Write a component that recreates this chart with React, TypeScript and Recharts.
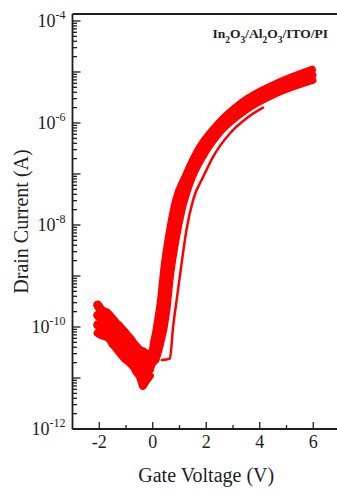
import { ComposedChart, Line, XAxis, YAxis, ReferenceLine, Label, Customized } from "recharts";

const RED = "#ff0000";
const INK = "#1e1e1e";
const FONT = '"Liberation Serif", "Times New Roman", serif';

const vRange: [number, number] = [-3, 7];
const iRange: [number, number] = [1e-12, 1.37e-4];
const xTicks = [-2, -1, 0, 1, 2, 3, 4, 5, 6];
const yDecades = [-12, -11, -10, -9, -8, -7, -6, -5, -4];
const mantissas = [1, 2, 3, 4, 5, 6, 7, 8, 9];

// off-state region, Vg < 0 (four overlapping sweeps)
const offV = [-2.06, -1.95, -1.84, -1.72, -1.61, -1.5, -1.39, -1.27, -1.16, -1.05, -0.94, -0.82, -0.71, -0.6, -0.49, -0.37, -0.26, -0.11];
const off1I = [2.7e-10, 2.2e-10, 2.0e-10, 1.9e-10, 1.65e-10, 1.4e-10, 1.2e-10, 1.05e-10, 9.0e-11, 7.8e-11, 6.6e-11, 5.6e-11, 4.6e-11, 4.0e-11, 3.4e-11, 3.3e-11, 2.8e-11, 3.0e-11];
const off2I = [1.7e-10, 1.5e-10, 1.35e-10, 1.3e-10, 1.2e-10, 9.5e-11, 7.8e-11, 7.2e-11, 6.2e-11, 5.0e-11, 4.3e-11, 3.9e-11, 3.4e-11, 2.8e-11, 2.3e-11, 2.0e-11, 1.9e-11, 2.1e-11];
const off3I = [1.1e-10, 1.05e-10, 9.8e-11, 8.5e-11, 7.7e-11, 6.8e-11, 5.9e-11, 4.6e-11, 3.9e-11, 3.6e-11, 3.2e-11, 2.6e-11, 2.2e-11, 2.0e-11, 1.65e-11, 1.2e-11, 1.3e-11, 1.5e-11];
const off4I = [7.6e-11, 7.0e-11, 6.7e-11, 6.4e-11, 5.8e-11, 4.6e-11, 4.0e-11, 3.3e-11, 2.8e-11, 2.4e-11, 2.15e-11, 1.9e-11, 1.65e-11, 1.3e-11, 1.1e-11, 7.0e-12, 8.7e-12, 1.1e-11];

// turn-on sweeps (bundle of repeated cycles)
const on1V = [-0.04, 0.0, 0.11, 0.3, 0.43, 0.62, 0.86, 1.24, 1.72, 2.47, 3.32, 4.67, 5.96];
const on1I = [1.8e-11, 3.5e-11, 7.6e-11, 3.4e-10, 1.5e-9, 7.0e-9, 3.0e-8, 9.5e-8, 3.1e-7, 1.0e-6, 2.5e-6, 6.1e-6, 1.12e-5];
const on2V = [0.04, 0.19, 0.41, 0.54, 0.73, 0.97, 1.31, 1.82, 2.51, 3.37, 4.65, 5.98];
const on2I = [2.1e-11, 5.6e-11, 2.7e-10, 1.3e-9, 5.6e-9, 2.5e-8, 8.4e-8, 2.7e-7, 8.4e-7, 2.1e-6, 4.7e-6, 8.7e-6];
const on3V = [0.11, 0.22, 0.52, 0.65, 0.84, 1.09, 1.41, 1.91, 2.55, 3.45, 4.61, 5.98];
const on3I = [2.25e-11, 3.5e-11, 2.15e-10, 9.7e-10, 4.4e-9, 2.0e-8, 7.1e-8, 2.4e-7, 7.0e-7, 1.76e-6, 3.8e-6, 6.9e-6];

// shifted single sweep on the right
const lateV = [0.34, 0.64, 0.76, 0.91, 1.08, 1.26, 1.51, 1.89, 2.26, 2.89, 3.56, 4.12];
const lateI = [2.25e-11, 2.4e-11, 1.0e-10, 3.9e-10, 1.8e-9, 8.0e-9, 3.1e-8, 8.9e-8, 2.2e-7, 6.3e-7, 1.3e-6, 2.0e-6];

const toPoints = (v: number[], i: number[]) => v.map((x, k) => ({ v: x, i: i[k] }));

const series = [
  { key: "off1", data: toPoints(offV, off1I), w: 9, curve: "linear" },
  { key: "off2", data: toPoints(offV, off2I), w: 9, curve: "linear" },
  { key: "off3", data: toPoints(offV, off3I), w: 9, curve: "linear" },
  { key: "off4", data: toPoints(offV, off4I), w: 8, curve: "linear" },
  { key: "on1", data: toPoints(on1V, on1I), w: 7.5, curve: "monotoneX" },
  { key: "on2", data: toPoints(on2V, on2I), w: 7.5, curve: "monotoneX" },
  { key: "on3", data: toPoints(on3V, on3I), w: 7.5, curve: "monotoneX" },
  { key: "late", data: toPoints(lateV, lateI), w: 2.5, curve: "monotoneX" },
];

const yTickValues = yDecades
  .flatMap((e) => mantissas.map((m) => m * Math.pow(10, e)))
  .filter((v) => v <= iRange[1]);

const YTick = (props: any) => {
  const { x, y, payload } = props;
  const v = payload.value;
  const e = Math.floor(Math.log10(v) + 1e-9);
  const major = Math.abs(v / Math.pow(10, e) - 1) < 1e-6;
  return (
    <g>
      <line x1={x} x2={x + (major ? 8 : 4.5)} y1={y} y2={y} stroke={INK} strokeWidth={1.3} />
      {major && e % 2 === 0 && (
        <text x={x - 7} y={y + 6} textAnchor="end" fontFamily={FONT} fontSize={18} fill={INK}>
          10
          <tspan dy={-8} fontSize={12}>
            {e}
          </tspan>
        </text>
      )}
    </g>
  );
};

const XTick = (props: any) => {
  const { x, y, payload } = props;
  const major = payload.value % 2 === 0;
  return (
    <g>
      <line x1={x} x2={x} y1={y} y2={y - (major ? 7 : 4)} stroke={INK} strokeWidth={1.3} />
      {major && (
        <text x={x} y={y + 19} textAnchor="middle" fontFamily={FONT} fontSize={18} fill={INK}>
          {payload.value}
        </text>
      )}
    </g>
  );
};

const XTitle = (props: any) => {
  const vb = props.viewBox || { x: 72.5, y: 429, width: 267.5, height: 61 };
  return (
    <text x={vb.x + vb.width / 2} y={vb.y + 53} textAnchor="middle" fontFamily={FONT} fontSize={20} fill={INK}>
      Gate Voltage (V)
    </text>
  );
};

const YTitle = (props: any) => {
  const vb = props.viewBox || { x: 0, y: 14, width: 72.5, height: 415 };
  const cx = vb.x + 28;
  const cy = vb.y + vb.height / 2;
  return (
    <text x={cx} y={cy} transform={`rotate(-90, ${cx}, ${cy})`} textAnchor="middle" fontFamily={FONT} fontSize={20} fill={INK}>
      Drain Current (A)
    </text>
  );
};

const Title = () => (
  <text x={328} y={38} textAnchor="end" fontFamily={FONT} fontWeight="bold" fontSize={13.5} fill={INK}>
    In<tspan baselineShift="sub" fontSize={9.5}>2</tspan>O<tspan baselineShift="sub" fontSize={9.5}>3</tspan>/Al
    <tspan baselineShift="sub" fontSize={9.5}>2</tspan>O<tspan baselineShift="sub" fontSize={9.5}>3</tspan>/ITO/PI
  </text>
);

export default function App() {
  return (
    <div style={{ position: "absolute", left: 0, top: 0, width: 337, height: 490, overflow: "hidden", background: "#fff" }}>
      <ComposedChart width={345} height={490} margin={{ top: 14, right: 5, bottom: 0, left: 0 }}>
        <XAxis
          type="number"
          dataKey="v"
          domain={vRange}
          allowDataOverflow
          ticks={xTicks}
          interval={0}
          tickSize={0}
          tickMargin={0}
          tickLine={false}
          tick={<XTick />}
          axisLine={{ stroke: INK, strokeWidth: 1.8 }}
          height={61}
        >
          <Label content={XTitle} />
        </XAxis>
        <YAxis
          type="number"
          scale="log"
          domain={iRange}
          allowDataOverflow
          ticks={yTickValues}
          interval={0}
          tickSize={0}
          tickMargin={0}
          tickLine={false}
          tick={<YTick />}
          axisLine={{ stroke: INK, strokeWidth: 1.8 }}
          width={72.5}
        >
          <Label content={YTitle} />
        </YAxis>
        <ReferenceLine y={iRange[1]} stroke={INK} strokeWidth={1.8} />
        <ReferenceLine x={vRange[1]} stroke={INK} strokeWidth={1.8} />
        {series.map((s) => (
          <Line
            key={s.key}
            data={s.data}
            dataKey="i"
            type={s.curve as any}
            stroke={RED}
            strokeWidth={s.w}
            strokeLinejoin="round"
            strokeLinecap="round"
            dot={false}
            activeDot={false}
            isAnimationActive={false}
          />
        ))}
        <Customized component={Title} />
      </ComposedChart>
    </div>
  );
}
